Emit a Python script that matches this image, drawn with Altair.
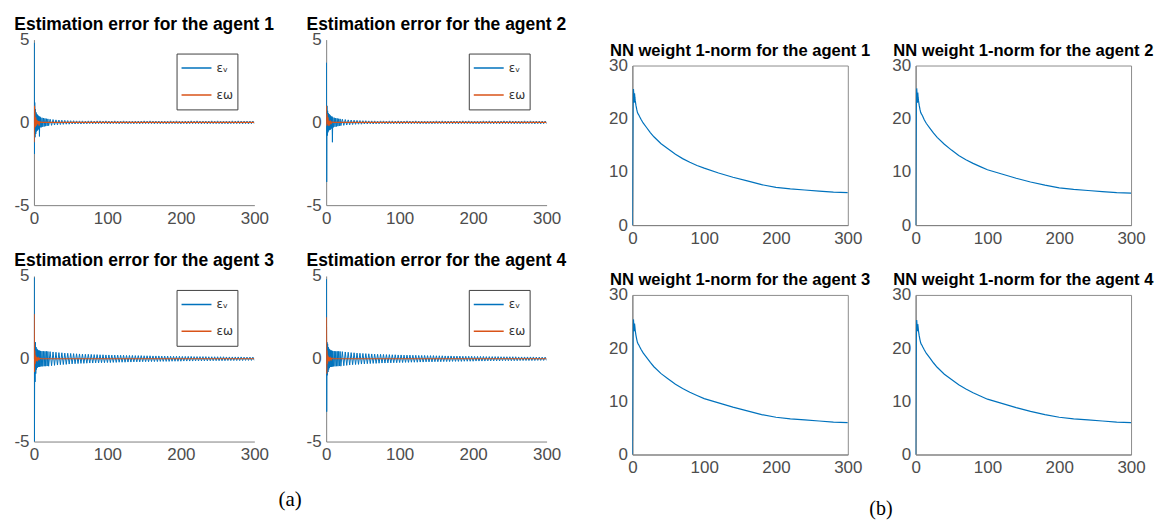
import altair as alt
import pandas as pd

BLUE = "#0072BD"
ORANGE = "#D95319"
LAB_V = "εᵥ"
LAB_W = "εω"

# ---------------- estimation error data (panel a) ----------------
HEAD_T = [0, 0.3, 0.7, 1.1, 1.5, 2, 2.5, 3, 3.5, 4, 4.5, 5, 5.5, 6, 6.5,
          7, 7.5, 8, 8.5, 9, 10, 11, 12, 13, 14, 15, 16, 17, 18, 19]
EV1 = [0, 4.8, -1.9, 1.2, -0.9, 0.8, -0.7, 0.6, -0.55, 0.5, -0.5, 0.45, -0.45, 0.4, -0.4,
       0.35, -0.85, 0.35, -0.3, 0.3, -0.3, 0.28, -0.27, 0.26, -0.25, 0.24, -0.23, 0.22, -0.21, 0.21]
EV2 = [0, 3.6, -3.6, 1.0, -0.8, 0.7, -0.6, 0.55, -0.5, 0.5, -0.45, 0.45, -0.45, 0.4, -0.4,
       0.35, -0.35, 0.35, -1.2, 0.3, -0.3, 0.28, -0.27, 0.26, -0.25, 0.24, -0.23, 0.22, -0.21, 0.21]
EV3 = [0, 4.9, -5.0, 0.8, -1.4, 1.0, -0.9, 0.7, -0.65, 0.6, -0.55, 0.55, -0.5, 0.5, -0.5,
       0.5, -0.48, 0.48, -0.47, 0.47, -0.46, 0.46, -0.46, 0.45, -0.45, 0.45, -0.45, 0.45, -0.44, 0.44]
EV4 = [0, 4.8, -3.2, 1.0, -1.0, 0.9, -0.8, 0.7, -0.65, 0.6, -0.55, 0.55, -0.5, 0.5, -0.5,
       0.5, -0.48, 0.48, -0.47, 0.47, -0.46, 0.46, -0.46, 0.45, -0.45, 0.45, -0.45, 0.45, -0.44, 0.44]

TAIL_T = list(range(20, 301, 2))
TAIL12 = [-0.20, 0.19, -0.18, 0.17, -0.16, 0.15, -0.15, 0.14, -0.13, 0.13,
          -0.12, 0.12, -0.11, 0.11, -0.11, 0.10, -0.10, 0.10, -0.10, 0.09,
          -0.09, 0.09, -0.10, 0.09, -0.09, 0.08, -0.09, 0.09, -0.08, 0.09,
          -0.09, 0.08, -0.09, 0.09, -0.08, 0.09, -0.09, 0.08, -0.08, 0.09,
          -0.09, 0.08, -0.09, 0.08, -0.08, 0.09, -0.08, 0.08, -0.09, 0.08,
          -0.08, 0.09, -0.08, 0.08, -0.09, 0.08, -0.08, 0.08, -0.09, 0.08,
          -0.08, 0.08, -0.09, 0.08, -0.08, 0.09, -0.08, 0.08, -0.08, 0.09,
          -0.08, 0.08, -0.09, 0.08, -0.08, 0.08, -0.09, 0.08, -0.08, 0.08,
          -0.09, 0.08, -0.08, 0.09, -0.08, 0.08, -0.08, 0.09, -0.08, 0.08,
          -0.09, 0.08, -0.08, 0.08, -0.09, 0.08, -0.08, 0.09, -0.08, 0.08,
          -0.08, 0.09, -0.08, 0.08, -0.09, 0.08, -0.08, 0.08, -0.09, 0.08,
          -0.08, 0.09, -0.08, 0.08, -0.08, 0.09, -0.08, 0.08, -0.09, 0.08,
          -0.08, 0.08, -0.09, 0.08, -0.08, 0.09, -0.08, 0.08, -0.08, 0.09,
          -0.08, 0.08, -0.09, 0.08, -0.08, 0.08, -0.09, 0.08, -0.08, 0.08,
          -0.08]
TAIL34 = [-0.45, 0.43, -0.42, 0.41, -0.40, 0.39, -0.38, 0.37, -0.36, 0.36,
          -0.35, 0.34, -0.34, 0.33, -0.32, 0.32, -0.31, 0.31, -0.30, 0.30,
          -0.29, 0.29, -0.28, 0.28, -0.28, 0.27, -0.27, 0.27, -0.26, 0.26,
          -0.26, 0.25, -0.25, 0.25, -0.25, 0.24, -0.24, 0.24, -0.24, 0.23,
          -0.23, 0.23, -0.23, 0.22, -0.22, 0.22, -0.22, 0.22, -0.21, 0.21,
          -0.21, 0.21, -0.21, 0.20, -0.20, 0.20, -0.20, 0.20, -0.19, 0.19,
          -0.19, 0.19, -0.19, 0.19, -0.18, 0.18, -0.18, 0.18, -0.18, 0.18,
          -0.17, 0.17, -0.17, 0.17, -0.17, 0.17, -0.16, 0.16, -0.16, 0.16,
          -0.16, 0.16, -0.16, 0.15, -0.15, 0.15, -0.15, 0.15, -0.15, 0.15,
          -0.15, 0.14, -0.14, 0.14, -0.14, 0.14, -0.14, 0.14, -0.14, 0.13,
          -0.13, 0.13, -0.13, 0.13, -0.13, 0.13, -0.13, 0.13, -0.13, 0.12,
          -0.12, 0.12, -0.12, 0.12, -0.12, 0.12, -0.12, 0.12, -0.12, 0.12,
          -0.12, 0.11, -0.11, 0.11, -0.11, 0.11, -0.11, 0.11, -0.11, 0.11,
          -0.11, 0.11, -0.11, 0.10, -0.10, 0.10, -0.10, 0.10, -0.10, 0.10,
          -0.10]

OM_T = [0, 0.3, 0.7, 1.2, 1.8, 2.5, 3.2, 4, 5, 6, 7, 8, 10, 300]
EW1 = [0, -1.2, 1.0, 0.6, -0.3, 0.3, -0.2, 0.15, -0.1, 0.08, -0.2, 0.03, 0, 0]
EW2 = [0, 1.0, -0.2, 0.5, -0.1, 0.3, -0.2, 0.1, -0.1, 0.05, -0.05, 0.03, 0, 0]
EW3 = [0, 2.7, -0.8, 0.5, -0.3, 0.2, -0.15, 0.1, -0.08, 0.05, -0.05, 0.03, 0, 0]
EW4 = [0, 2.5, -0.9, 0.5, -0.3, 0.2, -0.15, 0.1, -0.08, 0.05, -0.05, 0.03, 0, 0]

# ---------------- NN weight norm data (panel b) ----------------
NN_T = [0, 0.5, 1, 1.5, 2, 2.5, 3, 3.5, 4, 5, 6, 7, 8, 9, 10, 12, 15, 20, 25, 30,
        40, 50, 60, 70, 80, 90, 100, 120, 140, 160, 180, 200, 220, 240, 260, 280, 300]
NN1 = [0, 12, 22, 25.6, 24.5, 23.0, 24.8, 24.0, 23.4, 22.5, 21.8, 21.2, 20.9, 20.7, 20.4, 19.9,
       19.2, 18.3, 17.4, 16.6, 15.3, 14.3, 13.3, 12.5, 11.8, 11.2, 10.7, 9.8, 9.0, 8.3, 7.6, 7.1,
       6.8, 6.6, 6.4, 6.2, 6.1]
NN2 = [0, 12, 22, 25.7, 24.6, 23.0, 24.9, 24.0, 23.4, 22.5, 21.8, 21.2, 20.9, 20.7, 20.4, 19.8,
       19.1, 18.2, 17.3, 16.5, 15.2, 14.1, 13.1, 12.3, 11.6, 11.0, 10.4, 9.6, 8.8, 8.1, 7.5, 7.0,
       6.7, 6.5, 6.3, 6.1, 6.0]
NN3 = [0, 12, 22, 25.4, 24.3, 23.2, 24.6, 24.0, 23.3, 22.4, 21.7, 21.1, 20.8, 20.6, 20.3, 19.8,
       19.1, 18.2, 17.3, 16.5, 15.2, 14.2, 13.2, 12.4, 11.7, 11.1, 10.5, 9.7, 8.9, 8.2, 7.5, 7.0,
       6.7, 6.5, 6.3, 6.1, 6.0]
NN4 = [0, 12, 22, 25.3, 24.2, 23.2, 24.5, 23.9, 23.2, 22.3, 21.6, 21.0, 20.7, 20.5, 20.2, 19.7,
       19.0, 18.1, 17.2, 16.4, 15.1, 14.1, 13.1, 12.3, 11.6, 11.0, 10.4, 9.6, 8.8, 8.1, 7.5, 7.0,
       6.7, 6.5, 6.3, 6.1, 6.0]

TITLES_A = ["Estimation error for the agent 1", "Estimation error for the agent 2",
            "Estimation error for the agent 3", "Estimation error for the agent 4"]
TITLES_B = ["NN weight 1-norm for the agent 1", "NN weight 1-norm for the agent 2",
            "NN weight 1-norm for the agent 3", "NN weight 1-norm for the agent 4"]

LABEL_EXPR = "'' + datum.value"


def err_panel(title, ev, tail, ew):
    dv = pd.DataFrame({"t": HEAD_T + TAIL_T, "e": ev + tail, "s": LAB_V})
    dw = pd.DataFrame({"t": OM_T, "e": ew, "s": LAB_W})
    x = alt.X("t:Q", scale=alt.Scale(domain=[0, 300], nice=False, zero=False),
              axis=alt.Axis(values=[0, 100, 200, 300], title=None, labelExpr=LABEL_EXPR))
    y = alt.Y("e:Q", scale=alt.Scale(domain=[-5, 5], nice=False),
              axis=alt.Axis(values=[-5, 0, 5], title=None, labelExpr=LABEL_EXPR))
    color = alt.Color("s:N", scale=alt.Scale(domain=[LAB_V, LAB_W], range=[BLUE, ORANGE]),
                      legend=alt.Legend(title=None, orient="none", legendX=143, legendY=14,
                                        direction="vertical", strokeColor="#404040",
                                        fillColor="white", padding=4, symbolType="stroke",
                                        symbolSize=900, symbolStrokeWidth=1.5,
                                        labelFont="DejaVu Sans", labelFontSize=12,
                                        labelOffset=4, clipHeight=21, rowPadding=6,
                                        labelColor="#333333"))
    l1 = alt.Chart(dv).mark_line(strokeWidth=1, clip=True).encode(x=x, y=y, color=color)
    l2 = alt.Chart(dw).mark_line(strokeWidth=1.2, clip=True).encode(x=x, y=y, color=color)
    return alt.layer(l1, l2).properties(
        width=221, height=166, title=alt.TitleParams(title, fontSize=17.5),
        view=alt.ViewBackground(stroke="transparent"))


def nn_panel(title, vals):
    df = pd.DataFrame({"t": NN_T, "w": vals})
    return alt.Chart(df).mark_line(color=BLUE, strokeWidth=1.2, clip=True).encode(
        x=alt.X("t:Q", scale=alt.Scale(domain=[0, 300], nice=False, zero=False),
                axis=alt.Axis(values=[0, 100, 200, 300], title=None, labelExpr=LABEL_EXPR)),
        y=alt.Y("w:Q", scale=alt.Scale(domain=[0, 30], nice=False),
                axis=alt.Axis(values=[0, 10, 20, 30], title=None, labelExpr=LABEL_EXPR)),
    ).properties(width=216, height=160, title=alt.TitleParams(title, fontSize=16.6),
                 view=alt.ViewBackground(stroke="#8c8c8c"))


pa = [err_panel(TITLES_A[0], EV1, TAIL12, EW1), err_panel(TITLES_A[1], EV2, TAIL12, EW2),
      err_panel(TITLES_A[2], EV3, TAIL34, EW3), err_panel(TITLES_A[3], EV4, TAIL34, EW4)]
pb = [nn_panel(TITLES_B[0], NN1), nn_panel(TITLES_B[1], NN2),
      nn_panel(TITLES_B[2], NN3), nn_panel(TITLES_B[3], NN4)]

cap_a = alt.TitleParams("(a)", orient="bottom", font="Liberation Serif", fontSize=21,
                        fontWeight="normal", anchor="middle", offset=26)
cap_b = alt.TitleParams("(b)", orient="bottom", font="Liberation Serif", fontSize=20,
                        fontWeight="normal", anchor="middle", offset=23)

A = alt.concat(*pa, columns=2, spacing={"row": 71, "column": 72}, bounds="flush",
               title=cap_a).resolve_legend(color="independent")
B = alt.concat(*pb, columns=2, spacing={"row": 70, "column": 68}, bounds="flush",
               title=cap_b)

spacer = alt.Chart(pd.DataFrame({"a": [0]})).mark_point(opacity=0, size=1).encode(
    x=alt.value(0), y=alt.value(0)).properties(
    width=1, height=1, view=alt.ViewBackground(stroke="transparent"))

Acol = alt.vconcat(A, spacing=0)
Bcol = alt.vconcat(spacer, B, spacing=0)

chart = alt.hconcat(Acol, Bcol, spacing=40).properties(
    padding={"left": 5, "top": 7, "right": 0, "bottom": 0}
).configure_axis(
    labelFont="Liberation Sans", labelFontSize=17, labelColor="#4d4d4d",
    domainColor="#808080", domainWidth=1, ticks=False, grid=False, labelPadding=5,
    labelFlush=False
).configure_title(
    font="Liberation Sans", fontWeight="bold", color="#000000",
    anchor="middle", offset=-3
).configure_view(strokeWidth=1)

chart.save("out.html", embed_options={"renderer": "svg", "actions": False})
